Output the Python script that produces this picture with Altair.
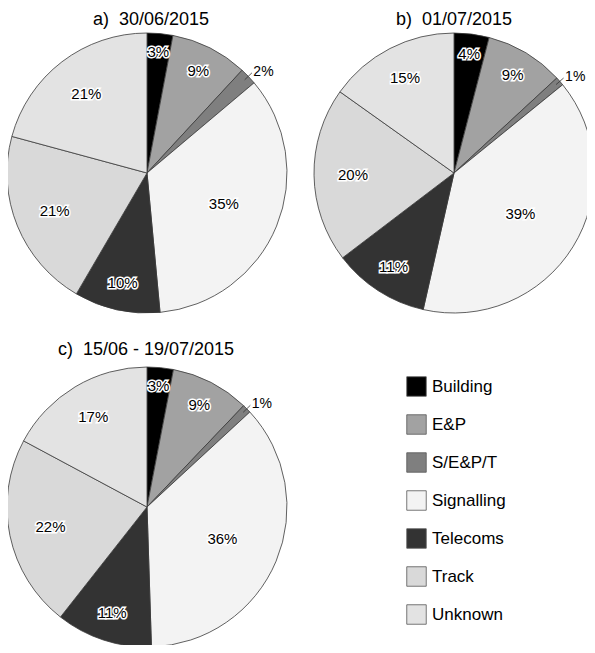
import altair as alt
import pandas as pd

cats = ["Building", "E&P", "S/E&P/T", "Signalling", "Telecoms", "Track", "Unknown"]
vals_a = [3, 9, 2, 35, 10, 21, 21]
vals_b = [4, 9, 1, 39, 11, 20, 15]
vals_c = [3, 9, 1, 36, 11, 22, 17]
pies = ["a", "b", "c"]
titles = ["a)\u00a0\u00a030/06/2015", "b)\u00a0\u00a001/07/2015", "c)\u00a0\u00a015/06 - 19/07/2015"]

fills = ["#000000", "#a2a2a2", "#7f7f7f", "#f3f3f3", "#333333", "#d9d9d9", "#e3e3e3"]

rows = []
for p, vals in zip(pies, [vals_a, vals_b, vals_c]):
    for i, (c, v) in enumerate(zip(cats, vals)):
        rows.append({"pie": p, "cat": c, "order": i, "value": v})
df = pd.DataFrame(rows)
tdf = pd.DataFrame({"pie": pies, "title": titles})

FONT = "Liberation Sans"
R = 140
cx_expr = "datum.pie == 'b' ? 446 : 139"
cy_expr = "datum.pie == 'c' ? 499 : 165"

base = (
    alt.Chart(df)
    .transform_joinaggregate(total="sum(value)", groupby=["pie"])
    .transform_window(cum="sum(value)", groupby=["pie"], sort=[alt.SortField("order")], frame=[None, 0])
    .transform_calculate(
        t0="2*PI*(datum.cum - datum.value)/datum.total",
        t1="2*PI*datum.cum/datum.total",
        cx=cx_expr,
        cy=cy_expr,
        label="datum.value + '%'",
    )
    .transform_calculate(tm="(datum.t0 + datum.t1)/2")
    .transform_calculate(
        lr="125 - 1.2*datum.value",
    )
    .transform_calculate(
        lx="datum.cx + datum.lr*sin(datum.tm)",
        ly="datum.cy - datum.lr*cos(datum.tm)",
        ox="datum.cx + 147*sin(datum.tm)",
        oy="datum.cy - 147*cos(datum.tm)",
        rx1="datum.cx + 135*sin(datum.tm)",
        ry1="datum.cy - 135*cos(datum.tm)",
        rx2="datum.cx + 145*sin(datum.tm)",
        ry2="datum.cy - 145*cos(datum.tm)",
    )
)

arcs = base.mark_arc(outerRadius=R, stroke="#3a3a3a", strokeWidth=0.8).encode(
    x=alt.X("cx:Q", scale=None, axis=None),
    y=alt.Y("cy:Q", scale=None, axis=None),
    theta=alt.Theta("t0:Q", scale=None),
    theta2="t1:Q",
    color=alt.Color(
        "cat:N",
        scale=alt.Scale(domain=cats, range=fills),
        legend=alt.Legend(
            title=None,
            orient="none",
            legendX=398,
            legendY=368,
            symbolType="square",
            symbolSize=380,
            symbolStrokeColor="#555555",
            symbolStrokeWidth=0.8,
            symbolOpacity=1,
            labelFont=FONT,
            labelFontSize=17,
            labelColor="black",
            labelOffset=5,
            rowPadding=15,
            padding=0,
        ),
    ),
)

inner = base.transform_filter("datum.value > 2")
halo = inner.mark_text(font=FONT, fontSize=15, fill="white", stroke="white", strokeWidth=3,
                       align="center", baseline="middle").encode(
    x=alt.X("lx:Q", scale=None), y=alt.Y("ly:Q", scale=None), text="label:N")
txt = inner.mark_text(font=FONT, fontSize=15, fill="black",
                      align="center", baseline="middle").encode(
    x=alt.X("lx:Q", scale=None), y=alt.Y("ly:Q", scale=None), text="label:N")

outer = base.transform_filter("datum.value <= 2")
otxt = outer.mark_text(font=FONT, fontSize=14, fill="black", align="left", baseline="middle").encode(
    x=alt.X("ox:Q", scale=None), y=alt.Y("oy:Q", scale=None), text="label:N")
lead = outer.mark_rule(color="#333333", strokeWidth=0.8).encode(
    x=alt.X("rx1:Q", scale=None), y=alt.Y("ry1:Q", scale=None),
    x2="rx2:Q", y2="ry2:Q")

tt = (
    alt.Chart(tdf)
    .transform_calculate(
        tx="datum.pie == 'b' ? 446 : (datum.pie == 'a' ? 143 : 138)",
        ty="datum.pie == 'c' ? 347 : 17",
    )
    .mark_text(font=FONT, fontSize=18, fill="black", align="center", baseline="alphabetic")
    .encode(x=alt.X("tx:Q", scale=None), y=alt.Y("ty:Q", scale=None), text="title:N")
)

chart = (
    alt.layer(arcs, halo, txt, lead, otxt, tt)
    .properties(width=579, height=637, padding=0, autosize=alt.AutoSizeParams(type="none"))
    .configure_view(stroke=None)
)

chart.save("out.html", embed_options={"renderer": "svg", "actions": False})
